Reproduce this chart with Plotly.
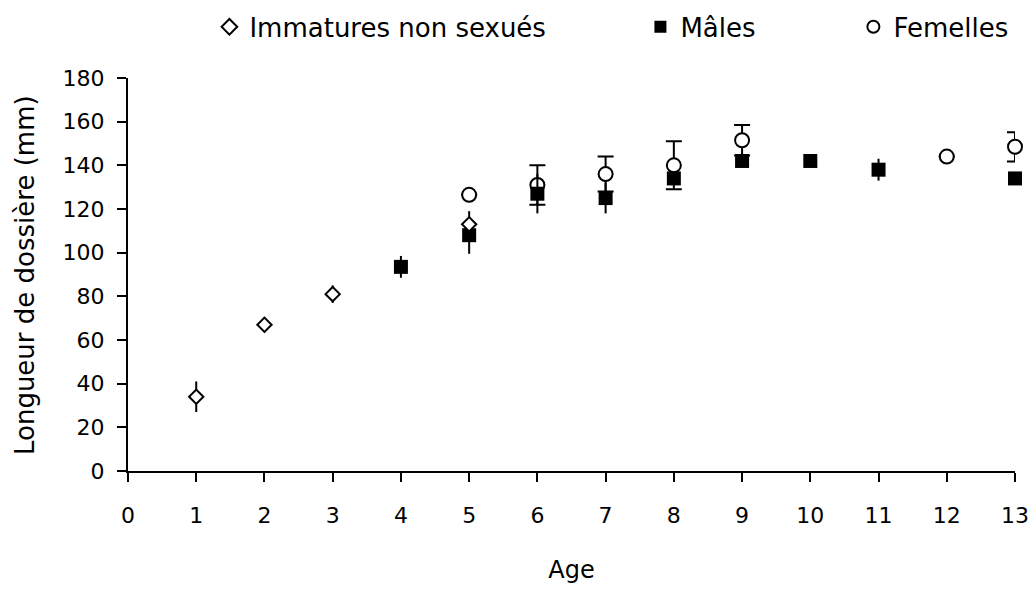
import plotly.graph_objects as go

# Data
imm_age = [1, 2, 3, 5]
imm_len = [34, 67, 81, 113]
imm_err = [7, 3.5, 4, 6]

male_age = [4, 5, 6, 7, 8, 9, 10, 11, 13]
male_len = [93.5, 108, 127, 125, 134, 142, 142, 138, 134]
male_err = [5, 8.5, 9, 7, 3, 2, 1, 5, 1]

fem_age = [5, 6, 7, 8, 9, 12, 13]
fem_len = [126.5, 131, 136, 140, 151.5, 144, 148.5]
fem_err = [0, 9, 8, 11, 7, 0, 6.7]

x_ticks = list(range(0, 14))
y_ticks = list(range(0, 181, 20))

FONT = "Comic Sans MS, DejaVu Sans, sans-serif"

fig = go.Figure()

fig.add_trace(go.Scatter(
    x=fem_age, y=fem_len, mode="markers", name="Femelles",
    marker=dict(symbol="circle", size=14, color="white",
                line=dict(color="black", width=2)),
    error_y=dict(type="data", array=fem_err, color="black", thickness=2, width=8),
    cliponaxis=False, legend="legend3", showlegend=True,
))
fig.add_trace(go.Scatter(
    x=male_age, y=male_len, mode="markers", name="Mâles",
    marker=dict(symbol="square", size=14, color="black",
                line=dict(color="black", width=0)),
    error_y=dict(type="data", array=male_err, color="black", thickness=2, width=0),
    cliponaxis=False, legend="legend2", showlegend=True,
))
fig.add_trace(go.Scatter(
    x=imm_age, y=imm_len, mode="markers", name="Immatures non sexués",
    marker=dict(symbol="diamond", size=11, color="white",
                line=dict(color="black", width=2)),
    error_y=dict(type="data", array=imm_err, color="black", thickness=2, width=0),
    cliponaxis=False, legend="legend", showlegend=True,
))

legend_common = dict(orientation="h", yanchor="middle", xanchor="left",
                     font=dict(family=FONT, size=26, color="black"),
                     bgcolor="rgba(0,0,0,0)", itemsizing="constant")

fig.update_layout(
    width=1030, height=592,
    margin=dict(l=128, r=15, t=78, b=121, autoexpand=False),
    paper_bgcolor="white", plot_bgcolor="white",
    showlegend=True,
    font=dict(family=FONT, size=22, color="black"),
    legend=dict(x=0.0918, y=1.13, **legend_common),
    legend2=dict(x=0.5777, y=1.13, **legend_common),
    legend3=dict(x=0.8178, y=1.13, **legend_common),
    xaxis=dict(
        range=[0, 13], tickmode="array", tickvals=x_ticks,
        ticktext=[str(v) for v in x_ticks],
        showline=True, linecolor="black", linewidth=2,
        ticks="outside", ticklen=9, tickwidth=2, tickcolor="black",
        showgrid=False, zeroline=False, ticklabelstandoff=15,
        tickfont=dict(family=FONT, size=22),
        title=dict(text="Age", font=dict(family=FONT, size=24), standoff=34),
    ),
    yaxis=dict(
        range=[0, 180], tickmode="array", tickvals=y_ticks,
        ticktext=[str(v) for v in y_ticks],
        showline=True, linecolor="black", linewidth=2,
        ticks="outside", ticklen=9, tickwidth=2, tickcolor="black",
        showgrid=False, zeroline=False, ticklabelstandoff=8,
        tickfont=dict(family=FONT, size=22),
    ),
    annotations=[dict(
        text="Longueur de dossière (mm)", textangle=-90,
        xref="paper", yref="paper", x=-0.1161, y=0.4987,
        xanchor="center", yanchor="middle", showarrow=False,
        font=dict(family=FONT, size=26, color="black"),
    )],
)

fig.write_html("out.html", config={"displayModeBar": False},
               post_script="document.body.style.margin='0';")
